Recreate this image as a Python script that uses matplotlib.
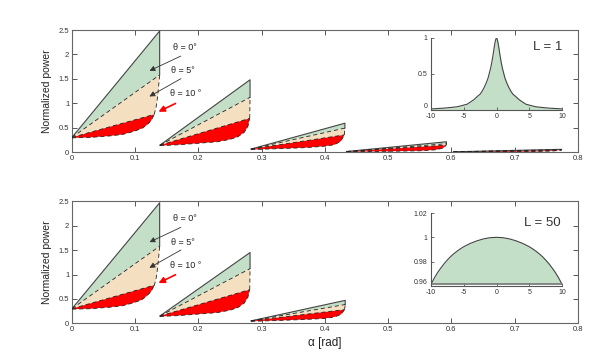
import matplotlib
matplotlib.use("Agg")
import matplotlib.pyplot as plt

# ---------------- data ----------------
# Top panel (L = 1): five segments
t_start_x = [0.0, 0.139, 0.283, 0.434, 0.603]
t_start_y = [0.30, 0.14, 0.06, 0.01, 0.004]
t_end_x = [0.1386, 0.2815, 0.4315, 0.592, 0.774]
t_green_end = [2.48, 1.48, 0.59, 0.21, 0.055]
t_mid_end = [1.58, 1.12, 0.49, 0.17, 0.048]
t_red_end_x = [0.130, 0.281, 0.4305, 0.5915, 0.7735]
t_red_end = [0.77, 0.69, 0.35, 0.14, 0.038]
t_redbot_x = [[0.0, 0.03, 0.06, 0.08, 0.097, 0.11, 0.118, 0.125, 0.130],
              [0.139, 0.17, 0.20, 0.23, 0.25, 0.262, 0.272, 0.278, 0.281],
              [0.283, 0.33, 0.37, 0.40, 0.415, 0.425, 0.4305],
              [0.434, 0.50, 0.55, 0.575, 0.587, 0.5915],
              [0.603, 0.68, 0.73, 0.76, 0.7735]]
t_redbot_y = [[0.29, 0.30, 0.33, 0.36, 0.42, 0.48, 0.55, 0.64, 0.77],
              [0.13, 0.15, 0.18, 0.21, 0.26, 0.31, 0.40, 0.52, 0.69],
              [0.05, 0.07, 0.09, 0.12, 0.15, 0.22, 0.35],
              [0.005, 0.015, 0.025, 0.045, 0.08, 0.14],
              [0.0, 0.004, 0.01, 0.02, 0.038]]

# Bottom panel (L = 50): three segments
b_start_x = [0.0, 0.139, 0.283]
b_start_y = [0.30, 0.15, 0.05]
b_end_x = [0.1386, 0.2815, 0.432]
b_green_end = [2.47, 1.45, 0.47]
b_mid_end = [1.58, 1.12, 0.385]
b_red_end_x = [0.130, 0.281, 0.431]
b_red_end = [0.78, 0.69, 0.28]
b_redbot_x = [[0.0, 0.03, 0.06, 0.08, 0.097, 0.11, 0.118, 0.125, 0.130],
              [0.139, 0.17, 0.20, 0.23, 0.25, 0.262, 0.272, 0.278, 0.281],
              [0.283, 0.33, 0.37, 0.40, 0.415, 0.425, 0.431]]
b_redbot_y = [[0.29, 0.30, 0.33, 0.36, 0.42, 0.48, 0.56, 0.65, 0.78],
              [0.14, 0.16, 0.19, 0.22, 0.27, 0.32, 0.41, 0.53, 0.69],
              [0.04, 0.06, 0.08, 0.10, 0.13, 0.18, 0.28]]

# curved right edge of the beige band for the first segment
edge1_x = [0.130, 0.133, 0.135, 0.1368, 0.1386]
edge1_y = [0.77, 0.92, 1.10, 1.32, 1.58]

# insets
in1_x = [-10, -8, -7, -6, -5.5, -4.5, -4, -3.5, -2.9, -2.5, -2.2, -1.9, -1.6, -1.3,
         -1.1, -0.9, -0.7, -0.5, -0.35, -0.2, -0.1, 0,
         0.1, 0.2, 0.35, 0.5, 0.7, 0.9, 1.1, 1.3, 1.6, 1.9, 2.2, 2.5, 2.9, 3.5,
         4, 4.5, 5.5, 6, 7, 8, 10]
in1_y = [0.015, 0.026, 0.035, 0.045, 0.056, 0.08, 0.11, 0.14, 0.19, 0.22, 0.26, 0.31, 0.37, 0.44,
         0.51, 0.58, 0.67, 0.78, 0.87, 0.95, 0.985, 1.0,
         0.985, 0.95, 0.87, 0.78, 0.67, 0.58, 0.51, 0.44, 0.37, 0.31, 0.26, 0.22, 0.19, 0.14,
         0.11, 0.08, 0.056, 0.045, 0.035, 0.026, 0.015]
in2_x = [-10, -9.5, -9, -8.5, -8, -7.5, -7, -6.5, -6, -5.5, -5, -4, -3, -2, -1, 0,
         1, 2, 3, 4, 5, 5.5, 6, 6.5, 7, 7.5, 8, 8.5, 9, 9.5, 10]
in2_y = [0.9615, 0.9665, 0.971, 0.9748, 0.9783, 0.9814, 0.9842, 0.9866, 0.9887, 0.9906,
         0.9923, 0.9950, 0.9971, 0.9987, 0.9997, 1.0,
         0.9997, 0.9987, 0.9971, 0.9950, 0.9923, 0.9906, 0.9887, 0.9866, 0.9842, 0.9814,
         0.9783, 0.9748, 0.971, 0.9665, 0.9615]

x_ticks = [0, 0.1, 0.2, 0.3, 0.4, 0.5, 0.6, 0.7, 0.8]
x_ticklabels = ["0", "0.1", "0.2", "0.3", "0.4", "0.5", "0.6", "0.7", "0.8"]
y_ticks = [0, 0.5, 1, 1.5, 2, 2.5]
y_ticklabels = ["0", "0.5", "1", "1.5", "2", "2.5"]

GREEN = "#c4dfc7"
BEIGE = "#f4dfc0"
RED = "#ff0000"
EDGE = "#444444"
DASH = (0, (5, 3.5))

plt.rcParams['font.family'] = ['Liberation Sans', 'DejaVu Sans']

fig = plt.figure(figsize=(6.02, 3.58), dpi=100)
ax_top = fig.add_axes([0.1196, 0.5754, 0.8405, 0.3408])
ax_bot = fig.add_axes([0.1196, 0.0969, 0.8405, 0.3408])


def draw_segments(ax, sx, sy, ex, ge, me, rx, re, rbx, rby):
    for i in range(len(sx)):
        x0, y0 = sx[i], sy[i]
        if i == 0:
            exx, exy = edge1_x, edge1_y
        else:
            exx, exy = [rx[i], ex[i]], [re[i], me[i]]
        ax.fill([x0, ex[i], ex[i]], [y0, ge[i], me[i]], color=GREEN, lw=0, zorder=1)
        bx = [x0, ex[i]] + list(exx[::-1]) + [x0]
        by = [y0, me[i]] + list(exy[::-1]) + [y0]
        ax.fill(bx, by, color=BEIGE, lw=0, zorder=1)
        rxs = [x0, rx[i]] + list(rbx[i][::-1])
        rys = [y0, re[i]] + list(rby[i][::-1])
        ax.fill(rxs, rys, color=RED, lw=0, zorder=2)
        ax.plot([x0, ex[i], ex[i]], [y0, ge[i], me[i]], color=EDGE, lw=0.8, zorder=3)
        ax.plot([x0, ex[i]], [y0, me[i]], color="#222222", lw=0.6, ls=DASH, zorder=3)
        ax.plot(exx, exy, color="#222222", lw=0.6, ls=DASH, zorder=3)
        ax.plot([x0, rx[i]], [y0, re[i]], color="#222222", lw=0.6, ls=DASH, zorder=3)
        ax.plot(rbx[i], rby[i], color="#222222", lw=0.6, ls=DASH, zorder=3)


def style_axes(ax):
    ax.set_xlim(0, 0.8)
    ax.set_ylim(0, 2.5)
    ax.set_xticks(x_ticks)
    ax.set_xticklabels(x_ticklabels)
    ax.set_yticks(y_ticks)
    ax.set_yticklabels(y_ticklabels)
    ax.tick_params(direction="in", length=3.5, width=0.7, labelsize=5.5,
                   colors="#555555", labelcolor="#333333", top=True, right=True, pad=2)
    for s in ax.spines.values():
        s.set_color("#666666")
        s.set_linewidth(0.8)
    ax.set_ylabel("Normalized power", fontsize=7.5, color="#222222", labelpad=5)


def annotate_thetas(ax):
    fs = 6.5
    ax.text(0.179, 2.15, "θ = 0°", fontsize=fs, ha="center", va="center", color="#222222")
    ax.text(0.175, 1.66, "θ = 5°", fontsize=fs, ha="center", va="center", color="#222222")
    ax.text(0.179, 1.19, "θ = 10 °", fontsize=fs, ha="center", va="center", color="#222222")
    ak = dict(arrowstyle="-|>", color="#333333", lw=0.6, mutation_scale=8)
    ax.annotate("", xy=(0.1186, 1.64), xytext=(0.176, 1.99), arrowprops=ak, zorder=5)
    ax.annotate("", xy=(0.1186, 1.11), xytext=(0.176, 1.53), arrowprops=ak, zorder=5)
    ar = dict(arrowstyle="-|>", color=RED, lw=1.2, mutation_scale=9)
    ax.annotate("", xy=(0.1328, 0.80), xytext=(0.1676, 1.02), arrowprops=ar, zorder=5)


draw_segments(ax_top, t_start_x, t_start_y, t_end_x, t_green_end, t_mid_end,
              t_red_end_x, t_red_end, t_redbot_x, t_redbot_y)
draw_segments(ax_bot, b_start_x, b_start_y, b_end_x, b_green_end, b_mid_end,
              b_red_end_x, b_red_end, b_redbot_x, b_redbot_y)
for ax in (ax_top, ax_bot):
    style_axes(ax)
    annotate_thetas(ax)
ax_bot.set_xlabel("α [rad]", fontsize=8.5, color="#222222", labelpad=3)

fig.text(548 / 602, 1 - 47 / 358, "L = 1", fontsize=9.5, ha="center", va="center",
         color="#333333")
fig.text(542 / 602, 1 - 223 / 358, "L = 50", fontsize=9.5, ha="center", va="center",
         color="#333333")


def style_inset(ax):
    for k in ("top", "right"):
        ax.spines[k].set_visible(False)
    for k in ("left", "bottom"):
        ax.spines[k].set_color("#555555")
        ax.spines[k].set_linewidth(0.8)
    ax.tick_params(direction="in", length=2, width=0.6, labelsize=5,
                   colors="#555555", labelcolor="#333333", pad=1.5)
    ax.tick_params(axis="x", pad=2.5)
    ax.tick_params(axis="y", pad=2.5)
    ax.set_xlim(-10, 10)
    ax.set_xticks([-10, -5, 0, 5, 10])
    ax.set_xticklabels(["-10", "-5", "0", "5", "10"])
    ax.patch.set_alpha(0)


in1 = fig.add_axes([431 / 602, 1 - 110 / 358, 131 / 602, 72 / 358])
in1.fill_between(in1_x, in1_y, 0, color=GREEN, lw=0)
in1.plot(in1_x, in1_y, color=EDGE, lw=0.8)
in1.set_ylim(0, 1)
in1.set_yticks([0, 0.5, 1])
in1.set_yticklabels(["0", "0.5", "1"])
in1.get_yticklabels()[0].set_va("bottom")
style_inset(in1)

in2 = fig.add_axes([431 / 602, 1 - 286 / 358, 131 / 602, 73 / 358])
in2.fill_between(in2_x, in2_y, 0.9615, color=GREEN, lw=0)
in2.plot(in2_x, in2_y, color=EDGE, lw=0.8)
in2.plot([-10, 10], [0.9615, 0.9615], color="#777777", lw=1.2)
in2.set_ylim(0.96, 1.02)
in2.set_yticks([0.96, 0.98, 1.0, 1.02])
in2.set_yticklabels(["0.96", "0.98", "1", "1.02"])
in2.get_yticklabels()[0].set_va("bottom")
style_inset(in2)

fig.savefig("out.png", dpi=100)
